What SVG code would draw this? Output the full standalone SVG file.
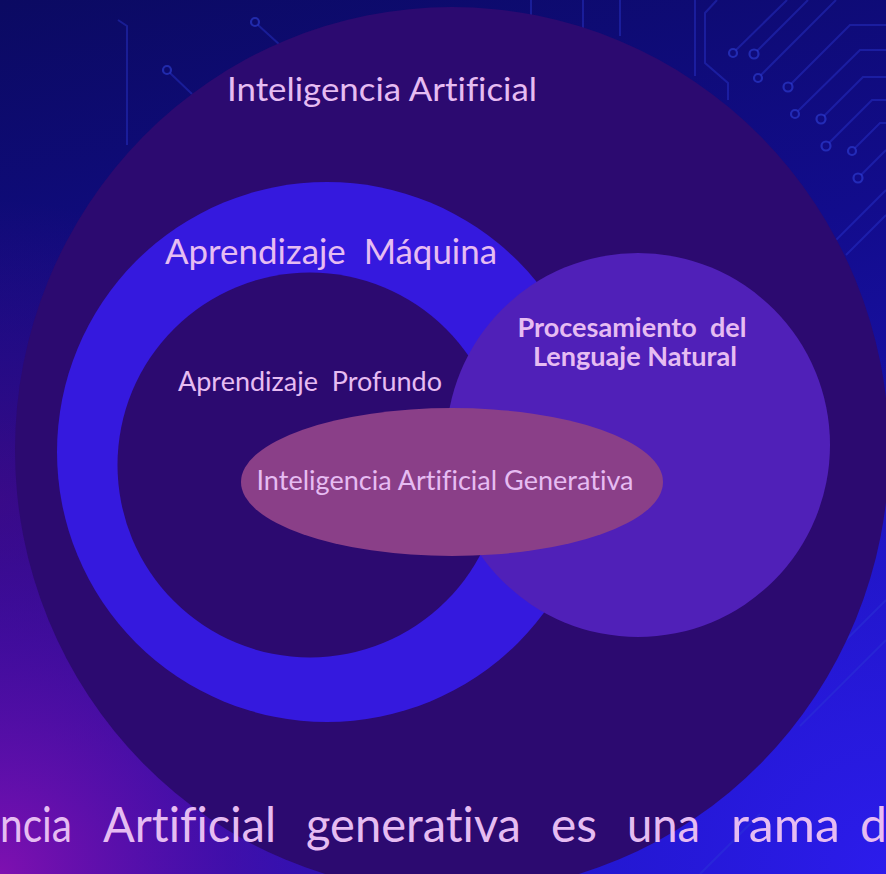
<svg xmlns="http://www.w3.org/2000/svg" width="886" height="874" viewBox="0 0 886 874">
<defs>
<linearGradient id="bg" x1="0" y1="0" x2="0.25" y2="1">
<stop offset="0" stop-color="#0b0a62"/>
<stop offset="0.45" stop-color="#120c8c"/>
<stop offset="1" stop-color="#2216c4"/>
</linearGradient>
<radialGradient id="glowBlue" gradientUnits="userSpaceOnUse" cx="886" cy="874" r="520">
<stop offset="0" stop-color="#2c1cec" stop-opacity="1"/>
<stop offset="0.6" stop-color="#2418d8" stop-opacity="0.6"/>
<stop offset="1" stop-color="#2418d8" stop-opacity="0"/>
</radialGradient>
<radialGradient id="glowPurple" gradientUnits="userSpaceOnUse" cx="0" cy="874" r="460">
<stop offset="0" stop-color="#7e10b0" stop-opacity="1"/>
<stop offset="0.5" stop-color="#4c0ca0" stop-opacity="0.7"/>
<stop offset="1" stop-color="#3a0a90" stop-opacity="0"/>
</radialGradient>
<radialGradient id="glowLeft" gradientUnits="userSpaceOnUse" cx="0" cy="500" r="300">
<stop offset="0" stop-color="#360a84" stop-opacity="1"/>
<stop offset="1" stop-color="#360a84" stop-opacity="0"/>
</radialGradient>
</defs>
<style>
.lbl{font-family:Lato,"Noto Sans","Liberation Sans",sans-serif;fill:#e6bcf2;white-space:pre;font-variant-ligatures:none;font-feature-settings:"liga" 0}
.bold{font-weight:bold}
.trace{fill:none;stroke:#2c3ad8;stroke-width:2;stroke-opacity:0.4}
.pad{fill:none;stroke:#3346e0;stroke-width:2.2;stroke-opacity:0.55}
</style>
<g id="background">
<rect width="886" height="874" fill="url(#bg)"/>
<rect width="886" height="874" fill="url(#glowBlue)"/>
<rect width="886" height="874" fill="url(#glowLeft)"/>
<rect width="886" height="874" fill="url(#glowPurple)"/>
</g>
<g id="circuits">
<path class="trace" d="M118,20 L127,26 L127,145"/>
<path class="trace" d="M170,73 L192,94"/>
<circle class="pad" cx="167" cy="70" r="4"/>
<path class="trace" d="M258,25 L280,45"/>
<circle class="pad" cx="255" cy="22" r="4"/>
<path class="trace" d="M531,0 L531,16"/>
<path class="trace" d="M583,0 L583,28"/>
<path class="trace" d="M620,0 L620,36"/>
<path class="trace" d="M695,0 L695,76"/>
<path class="trace" d="M717,0 L705,13 L705,63 L728,83 L728,100"/>
<path class="trace" d="M736,50 L787,0"/>
<circle class="pad" cx="733" cy="53" r="4"/>
<path class="trace" d="M757,51 L808,0"/>
<circle class="pad" cx="754" cy="54" r="4.5"/>
<path class="trace" d="M761,75 L836,0"/>
<circle class="pad" cx="758" cy="78" r="4"/>
<path class="trace" d="M791,84 L850,25 L886,25"/>
<circle class="pad" cx="788" cy="87" r="4.5"/>
<path class="trace" d="M798,111 L860,50 L886,50"/>
<circle class="pad" cx="795" cy="114" r="4"/>
<path class="trace" d="M824,116 L863,77 L886,77"/>
<circle class="pad" cx="821" cy="119" r="4.5"/>
<path class="trace" d="M829,143 L872,100 L886,100"/>
<circle class="pad" cx="826" cy="146" r="4.5"/>
<path class="trace" d="M855,148 L880,123 L886,123"/>
<circle class="pad" cx="852" cy="151" r="4"/>
<path class="trace" d="M861,175 L886,150"/>
<circle class="pad" cx="858" cy="178" r="4.5"/>
<path class="trace" d="M886,190 L836,240"/>
<path class="trace" d="M886,215 L846,255"/>
<path class="trace" d="M886,600 L820,666"/>
<path class="trace" d="M886,640 L800,726"/>
<path class="trace" d="M700,874 L760,814"/>
</g>
<g id="connectors"/>
<g id="node-ia">
<ellipse cx="452" cy="450" rx="437" ry="443" fill="#2c0a70"/>
<text class="lbl" x="382" y="101" font-size="33" text-anchor="middle" textLength="310" lengthAdjust="spacingAndGlyphs">Inteligencia Artificial</text>
</g>
<g id="node-ml">
<circle cx="327" cy="452" r="270" fill="#3519de"/>
<text class="lbl" x="331" y="264" font-size="34" text-anchor="middle" textLength="332" lengthAdjust="spacingAndGlyphs">Aprendizaje  Máquina</text>
</g>
<g id="node-dl">
<circle cx="310" cy="465" r="192.5" fill="#2c0a70"/>
<text class="lbl" x="310" y="391" font-size="26" text-anchor="middle" textLength="264" lengthAdjust="spacingAndGlyphs">Aprendizaje  Profundo</text>
</g>
<g id="node-nlp">
<circle cx="638" cy="445" r="192" fill="#5020b8"/>
<text class="lbl bold" x="632" y="337" font-size="26" text-anchor="middle" textLength="229" lengthAdjust="spacingAndGlyphs">Procesamiento  del</text>
<text class="lbl bold" x="635" y="366" font-size="26" text-anchor="middle" textLength="204" lengthAdjust="spacingAndGlyphs">Lenguaje Natural</text>
</g>
<g id="node-genai">
<ellipse cx="452" cy="482" rx="211" ry="74" fill="#8a3f88"/>
<text class="lbl" x="445" y="490" font-size="26" text-anchor="middle" textLength="377" lengthAdjust="spacingAndGlyphs">Inteligencia Artificial Generativa</text>
</g>
<g id="caption">
<text class="lbl" x="0" y="842" font-size="48" textLength="72" lengthAdjust="spacingAndGlyphs">ncia</text>
<text class="lbl" x="103" y="842" font-size="48" textLength="173" lengthAdjust="spacingAndGlyphs">Artificial</text>
<text class="lbl" x="306" y="842" font-size="48" textLength="215" lengthAdjust="spacingAndGlyphs">generativa</text>
<text class="lbl" x="551" y="842" font-size="48" textLength="46" lengthAdjust="spacingAndGlyphs">es</text>
<text class="lbl" x="627" y="842" font-size="48" textLength="73" lengthAdjust="spacingAndGlyphs">una</text>
<text class="lbl" x="731" y="842" font-size="48" textLength="109" lengthAdjust="spacingAndGlyphs">rama</text>
<text class="lbl" x="860" y="842" font-size="48">d</text>
</g>
</svg>
